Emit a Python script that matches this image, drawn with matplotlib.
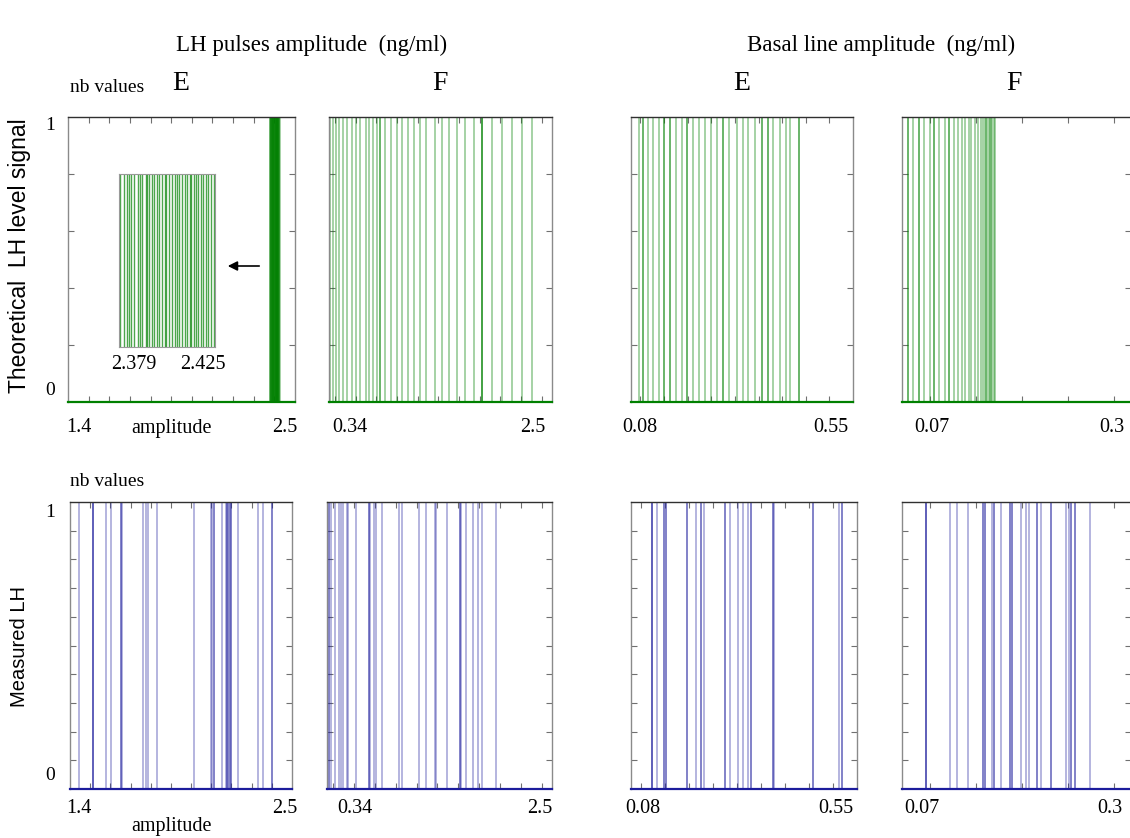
import matplotlib
matplotlib.use("Agg")
import matplotlib.pyplot as plt
import numpy as np

W, H = 1130, 838
SERIF = "Liberation Serif"
SANS = "Liberation Sans"

# ---------------- data (values of each observed amplitude; repeats = several identical values)
theo_pulse_E = [2.3790, 2.3811, 2.3822, 2.3833, 2.3843, 2.3857, 2.3878, 2.3886, 2.3899,
                2.3915, 2.3921, 2.3931, 2.3947, 2.3958, 2.3971, 2.3982, 2.3995, 2.4008,
                2.4017, 2.4030, 2.4046, 2.4059, 2.4070, 2.4081, 2.4094, 2.4107, 2.4120,
                2.4131, 2.4139, 2.4150, 2.4161, 2.4174, 2.4187, 2.4198, 2.4209, 2.4222,
                2.4235, 2.4250]
theo_pulse_F = [0.350, 0.382, 0.405, 0.437, 0.473, 0.512, 0.560, 0.599, 0.640, 0.696,
                0.730, 0.769, 0.802, 0.834, 0.834, 0.886, 0.938, 0.996, 1.050, 1.108,
                1.167, 1.222, 1.280, 1.367, 1.432, 1.506, 1.577, 1.658, 1.745, 1.825,
                1.825, 1.825, 1.917, 2.013, 2.110, 2.207, 2.310]
theo_basal_E = [0.0976, 0.1060, 0.1060, 0.1166, 0.1272, 0.1399, 0.1505, 0.1505, 0.1626,
                0.1626, 0.1746, 0.1873, 0.1979, 0.1979, 0.2106, 0.2240, 0.2367, 0.2487,
                0.2614, 0.2754, 0.2754, 0.2881, 0.3038, 0.3165, 0.3284, 0.3425, 0.3567,
                0.3567, 0.3694, 0.3694, 0.3813, 0.3955, 0.4075, 0.4167, 0.4357, 0.4357]
theo_basal_F = [0.0762, 0.0762, 0.0823, 0.0885, 0.0885, 0.0942, 0.1001, 0.1051, 0.1051,
                0.1105, 0.1167, 0.1211, 0.1211, 0.1258, 0.1305, 0.1349, 0.1385, 0.1421,
                0.1450, 0.1486, 0.1523, 0.1559, 0.1573, 0.1595, 0.1610, 0.1624, 0.1638,
                0.1649, 0.1660, 0.1675, 0.1692, 0.1711]
meas_pulse_E = [1.445, 1.512, 1.515, 1.515, 1.577, 1.603, 1.651, 1.651, 1.656, 1.760,
                1.777, 1.785, 1.830, 2.016, 2.097, 2.102, 2.114, 2.114, 2.155, 2.172,
                2.176, 2.180, 2.184, 2.188, 2.192, 2.196, 2.200, 2.234, 2.330, 2.358,
                2.400, 2.400]
meas_pulse_F = [0.362, 0.362, 0.376, 0.417, 0.455, 0.474, 0.496, 0.535, 0.544, 0.615,
                0.746, 0.746, 0.753, 0.791, 0.807, 0.865, 1.031, 1.057, 1.223, 1.287,
                1.376, 1.386, 1.489, 1.616, 1.616, 1.626, 1.671, 1.738, 1.792, 1.830,
                1.959]
meas_basal_E = [0.1230, 0.1230, 0.1243, 0.1347, 0.1492, 0.1492, 0.1528, 0.1528, 0.1958,
                0.1958, 0.2145, 0.2255, 0.2255, 0.2324, 0.2754, 0.2754, 0.2858, 0.3031,
                0.3122, 0.3239, 0.3295, 0.3295, 0.3758, 0.3758, 0.3773, 0.4590, 0.4590,
                0.5124, 0.5180, 0.5180]
meas_basal_F = [0.0958, 0.0958, 0.0958, 0.1222, 0.1295, 0.1414, 0.1573, 0.1573, 0.1595,
                0.1595, 0.1675, 0.1700, 0.1700, 0.1776, 0.1874, 0.1874, 0.1892, 0.1892,
                0.1993, 0.2048, 0.2073, 0.2164, 0.2164, 0.2208, 0.2312, 0.2312, 0.2479,
                0.2508, 0.2534, 0.2534, 0.2570, 0.2570, 0.2736]

# range labels shown under each panel
range_labels = [("1.4", "2.5"), ("0.34", "2.5"), ("0.08", "0.55"), ("0.07", "0.3")]
x_limits = [(1.4, 2.5), (0.34, 2.5), (0.08, 0.55), (0.07, 0.318)]
inset_labels = ("2.379", "2.425")
col_letters = ["E", "F", "E", "F"]
titles = ["LH pulses amplitude  (ng/ml)", "Basal line amplitude  (ng/ml)"]
row_labels = ["Theoretical  LH level signal", "Measured LH"]

GREEN = "#008000"
BLUE = "#1c1c9c"

fig = plt.figure(figsize=(W / 100, H / 100), dpi=100)


def px_axes(x0, y0, x1, y1):
    return fig.add_axes([x0 / W, 1 - y1 / H, (x1 - x0) / W, (y1 - y0) / H])


def fig_text(x, y, s, **kw):
    fig.text(x / W, 1 - y / H, s, ha=kw.pop("ha", "center"), va=kw.pop("va", "center"), **kw)


def style_axes(ax, color, xticks, yticks):
    ax.set_ylim(0, 1)
    for s in ("left", "right"):
        ax.spines[s].set_color("#8a8a8a")
        ax.spines[s].set_linewidth(1.0)
    ax.spines["top"].set_color("#303030")
    ax.spines["top"].set_linewidth(1.0)
    ax.spines["bottom"].set_color(color)
    ax.spines["bottom"].set_linewidth(1.6)
    ax.set_xticks(xticks)
    ax.set_yticks(yticks)
    ax.tick_params(axis="both", which="both", direction="in", length=4, width=0.8,
                   color="#707070", top=True, bottom=True, left=True, right=True,
                   labelbottom=False, labelleft=False)


def draw_lines(ax, values, color, alpha):
    ax.vlines(values, 0, 1, colors=color, linewidth=1.1, alpha=alpha, zorder=2)


xticks_list = [np.arange(1.5, 2.45, 0.1), np.arange(0.4, 2.45, 0.2),
               np.arange(0.1, 0.51, 0.05), np.arange(0.1, 0.31, 0.05)]

top_boxes = [(68, 117, 295, 402), (329, 117, 552, 402), (631, 117, 853, 402), (902, 117, 1131, 402)]
bot_boxes = [(70, 502, 292, 789), (327, 502, 552, 789), (631, 502, 857, 789), (902, 502, 1131, 789)]

top_data = [theo_pulse_E, theo_pulse_F, theo_basal_E, theo_basal_F]
bot_data = [meas_pulse_E, meas_pulse_F, meas_basal_E, meas_basal_F]

for i in range(4):
    ax = px_axes(*top_boxes[i])
    ax.set_xlim(*x_limits[i])
    draw_lines(ax, top_data[i], GREEN, 0.45)
    style_axes(ax, GREEN, xticks_list[i], np.arange(0.2, 0.81, 0.2))

    ax2 = px_axes(*bot_boxes[i])
    ax2.set_xlim(*x_limits[i])
    draw_lines(ax2, bot_data[i], BLUE, 0.42)
    style_axes(ax2, BLUE, xticks_list[i], np.arange(0.1, 0.91, 0.1))

# inset zoom of the narrow green band
axi = px_axes(119, 174, 215, 347)
axi.set_xlim(2.3785, 2.4255)
axi.set_ylim(0, 1)
axi.vlines(theo_pulse_E, 0, 1, colors=GREEN, linewidth=1.0, alpha=0.7)
for s in axi.spines.values():
    s.set_color("#9a9a9a")
    s.set_linewidth(0.8)
axi.set_xticks([])
axi.set_yticks([])
fig_text(134, 364, inset_labels[0], family=SERIF, fontsize=14.5)
fig_text(203, 364, inset_labels[1], family=SERIF, fontsize=14.5)
fig.add_artist(matplotlib.patches.FancyArrowPatch(
    (262 / W, 1 - 266 / H), (225 / W, 1 - 266 / H), transform=fig.transFigure,
    arrowstyle="-|>", mutation_scale=14, color="black", linewidth=1.2))

# titles and letters
fig_text(312, 45, titles[0], family=SERIF, fontsize=16.5)
fig_text(881, 45, titles[1], family=SERIF, fontsize=16.5)
letter_x = [181, 440, 742, 1014]
for x, s in zip(letter_x, col_letters):
    fig_text(x, 83, s, family=SERIF, fontsize=20)

fig_text(107, 88, "nb values", family=SERIF, fontsize=14)
fig_text(107, 481, "nb values", family=SERIF, fontsize=14)

# y labels and 0/1 marks
fig_text(20, 256, row_labels[0], family=SANS, fontsize=16.5, rotation=90)
fig_text(20, 646, row_labels[1], family=SANS, fontsize=14.5, rotation=90)
fig_text(50, 126, "1", family=SERIF, fontsize=14)
fig_text(50, 390, "0", family=SERIF, fontsize=14)
fig_text(50, 512, "1", family=SERIF, fontsize=14)
fig_text(50, 775, "0", family=SERIF, fontsize=14)

# range labels
top_lab_x = [(79, 285), (350, 533), (640, 831), (932, 1112)]
bot_lab_x = [(79, 285), (355, 540), (643, 836), (922, 1110)]
for (xa, xb), (la, lb) in zip(top_lab_x, range_labels):
    fig_text(xa, 428, la, family=SERIF, fontsize=14.5)
    fig_text(xb, 428, lb, family=SERIF, fontsize=14.5)
for (xa, xb), (la, lb) in zip(bot_lab_x, range_labels):
    fig_text(xa, 808, la, family=SERIF, fontsize=14.5)
    fig_text(xb, 808, lb, family=SERIF, fontsize=14.5)
fig_text(172, 428, "amplitude", family=SERIF, fontsize=14.5)
fig_text(172, 826, "amplitude", family=SERIF, fontsize=14.5)

fig.savefig("out.png", dpi=100, facecolor="white")
